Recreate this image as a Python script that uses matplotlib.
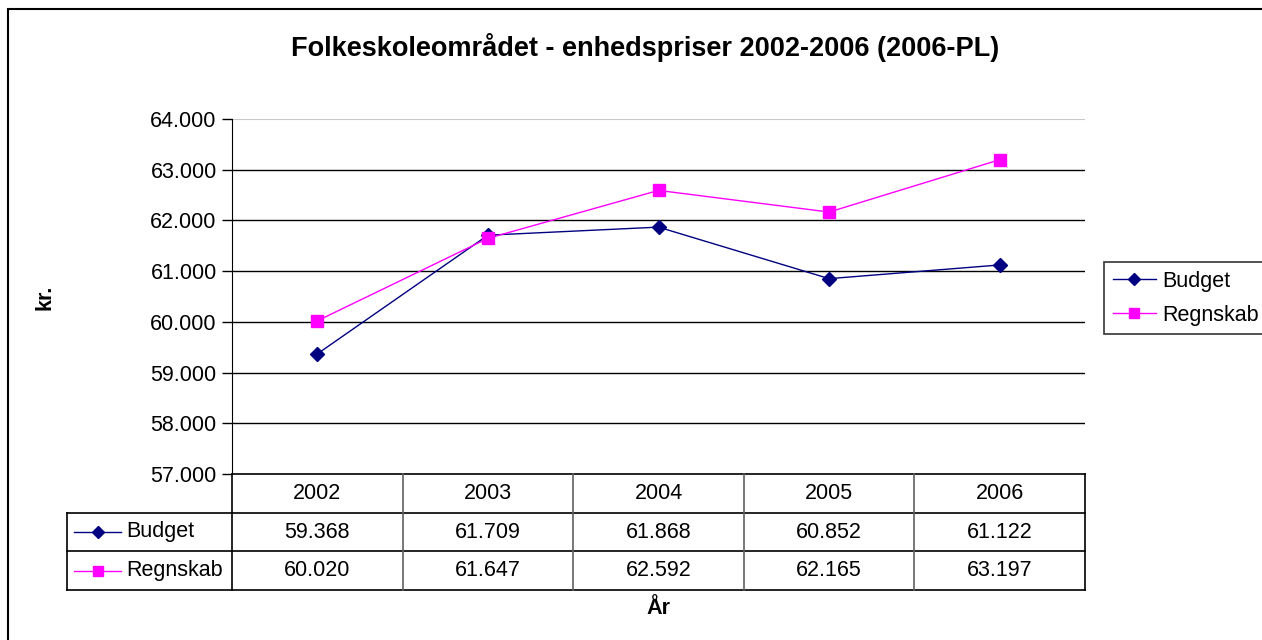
import matplotlib
matplotlib.use("Agg")
import matplotlib.pyplot as plt
from matplotlib.lines import Line2D
from matplotlib.patches import Rectangle

plt.rcParams['font.family'] = ['Liberation Sans', 'DejaVu Sans']

title = "Folkeskoleområdet - enhedspriser 2002-2006 (2006-PL)"
years = ["2002", "2003", "2004", "2005", "2006"]
budget = [59368, 61709, 61868, 60852, 61122]
regnskab = [60020, 61647, 62592, 62165, 63197]
series_names = ["Budget", "Regnskab"]
yticks = [57000, 58000, 59000, 60000, 61000, 62000, 63000, 64000]
ylabel = "kr."
xlabel = "År"

W, H = 1262, 640
fig = plt.figure(figsize=(W / 100, H / 100), dpi=100)
FS = 15.5

def fr(x0, y0, x1, y1):
    return [x0 / W, 1 - y1 / H, (x1 - x0) / W, (y1 - y0) / H]

# outer frame
fig.add_artist(Rectangle((8 / W, -0.1), 1.2, 1 - 9 / H + 0.1, transform=fig.transFigure,
                         fill=False, edgecolor='black', lw=1.5))

navy = '#000080'
magenta = '#FF00FF'

px0, px1, py0, py1 = 232, 1085, 119, 474
ax = fig.add_axes(fr(px0, py0, px1, py1))
x = list(range(len(years)))
ax.plot(x, budget, color=navy, lw=1, marker='D', ms=7, label=series_names[0], zorder=3)
ax.plot(x, regnskab, color=magenta, lw=1, marker='s', ms=8, label=series_names[1], zorder=3)
ax.set_xlim(-0.5, len(years) - 0.5)
ax.set_ylim(yticks[0], yticks[-1])
ax.set_yticks(yticks)
ax.set_yticklabels([f"{v:,}".replace(",", ".") for v in yticks], fontsize=FS)
ax.set_xticks([])
for v in yticks[1:-1]:
    ax.axhline(v, color='black', lw=1, zorder=1)
ax.axhline(yticks[-1], color='#c8c8c8', lw=1.5, zorder=1)
for s in ['top', 'right', 'bottom']:
    ax.spines[s].set_visible(False)
ax.spines['left'].set_color('black')
ax.tick_params(axis='y', length=7, width=1, color='black', pad=4)
ax.axhline(yticks[0], color='black', lw=1.2, zorder=2, clip_on=False)

# table
tx0 = 67
unit = (px1 - px0) / len(years)
xl = -0.5 - (px0 - tx0) / unit
tax = fig.add_axes(fr(tx0, 474, px1, 590))
tax.set_xlim(xl, len(years) - 0.5)
tax.set_ylim(3, 0)
tax.axis('off')
for i, yr in enumerate(years):
    tax.text(i, 0.5, yr, ha='center', va='center', fontsize=FS)
rows = [budget, regnskab]
for r, vals in enumerate(rows):
    for i, v in enumerate(vals):
        tax.text(i, 1.5 + r, f"{v:,}".replace(",", "."), ha='center', va='center', fontsize=FS)
for yy in [1, 2, 3]:
    tax.plot([xl, len(years) - 0.5], [yy, yy], color='black', lw=1.2, clip_on=False)
tax.plot([xl, xl], [1, 3], color='black', lw=1.2, clip_on=False)
tax.plot([-0.5, -0.5], [0, 3], color='black', lw=1.2, clip_on=False)
for i in range(1, len(years)):
    tax.plot([i - 0.5, i - 0.5], [0, 3], color='#606060', lw=1.2, clip_on=False)
tax.plot([len(years) - 0.5] * 2, [0, 3], color='black', lw=1.2, clip_on=False)
for r, (name, col, mk, ms) in enumerate([(series_names[0], navy, 'D', 6), (series_names[1], magenta, 's', 7)]):
    lx0 = xl + 7 / unit
    lx1 = xl + 54 / unit
    tax.plot([lx0, lx1], [1.5 + r] * 2, color=col, lw=1, clip_on=False)
    tax.plot([(lx0 + lx1) / 2], [1.5 + r], color=col, marker=mk, ms=ms, clip_on=False)
    tax.text(xl + 59 / unit, 1.5 + r, name, ha='left', va='center', fontsize=FS)

# labels
fig.text(645 / W, 1 - 47 / H, title, ha='center', va='center', fontsize=19.5, fontweight='bold')
fig.text(45 / W, 1 - 297 / H, ylabel, ha='center', va='center', rotation=90, fontsize=FS, fontweight='bold')
fig.text(658 / W, 1 - 608 / H, xlabel, ha='center', va='center', fontsize=FS, fontweight='bold')

handles = [Line2D([], [], color=navy, marker='D', ms=6.5, lw=1),
           Line2D([], [], color=magenta, marker='s', ms=7.5, lw=1)]
leg = fig.legend(handles, series_names, loc='upper left', bbox_to_anchor=(1104 / W, 1 - 262 / H),
                 bbox_transform=fig.transFigure, fontsize=FS, frameon=True, fancybox=False,
                 edgecolor='black', handlelength=2.0, handletextpad=0.3, borderpad=0.4,
                 labelspacing=0.6, borderaxespad=0)
leg.get_frame().set_linewidth(1.2)

fig.savefig("out.png", dpi=100)
